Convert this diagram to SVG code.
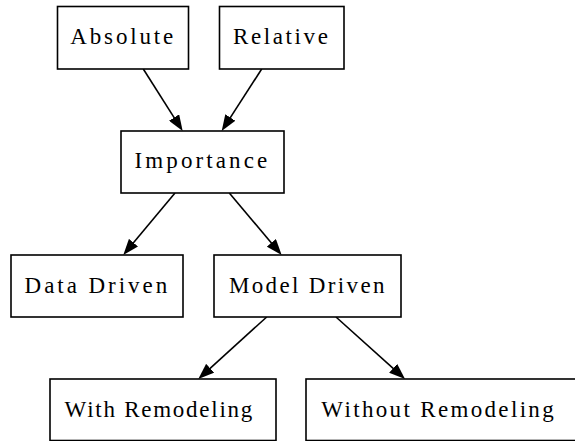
<svg xmlns="http://www.w3.org/2000/svg" width="575" height="441" viewBox="0 0 575 441">
  <style>
    .box { fill: #ffffff; stroke: #000000; stroke-width: 1.6; }
    .lbl { font-family: "Liberation Serif", "Times New Roman", serif; font-size: 23px; fill: #000000; }
    .edge { fill: none; stroke: #000000; stroke-width: 1.6; marker-end: url(#arrow); }
  </style>
  <defs>
    <marker id="arrow" markerUnits="userSpaceOnUse" markerWidth="16" markerHeight="12" viewBox="0 0 16 12" refX="6" refY="6" orient="auto">
      <path d="M0,0 L16,6 L0,12 Z" fill="#000000"/>
    </marker>
  </defs>
  <rect x="0" y="0" width="575" height="441" fill="#ffffff"/>

  <g id="edges">
    <line class="edge" x1="143.3" y1="69" x2="177.3" y2="122.6"/>
    <line class="edge" x1="261.7" y1="69" x2="227.1" y2="122.6"/>
    <line class="edge" x1="175" y1="193" x2="129.7" y2="247.3"/>
    <line class="edge" x1="229.3" y1="193" x2="275.2" y2="247.4"/>
    <line class="edge" x1="266.7" y1="317" x2="205.7" y2="372.3"/>
    <line class="edge" x1="336" y1="317" x2="397.6" y2="372.3"/>
  </g>

  <g id="absolute">
    <rect class="box" x="57.5" y="6.5" width="131" height="62.5"/>
    <text class="lbl" x="70.3" y="44" letter-spacing="2.85">Absolute</text>
  </g>
  <g id="relative">
    <rect class="box" x="219.5" y="6.5" width="124.5" height="62.5"/>
    <text class="lbl" x="233" y="44" letter-spacing="2.6">Relative</text>
  </g>
  <g id="importance">
    <rect class="box" x="121" y="131" width="163" height="62"/>
    <text class="lbl" x="134.6" y="168" letter-spacing="3.1">Importance</text>
  </g>
  <g id="data-driven">
    <rect class="box" x="11" y="255" width="172" height="62"/>
    <text class="lbl" x="24.6" y="292.7" letter-spacing="2.95">Data Driven</text>
  </g>
  <g id="model-driven">
    <rect class="box" x="214" y="255" width="187" height="62"/>
    <text class="lbl" x="228.9" y="292.7" letter-spacing="2.36">Model Driven</text>
  </g>
  <g id="with-remodeling">
    <rect class="box" x="50" y="379" width="226" height="61.5"/>
    <text class="lbl" x="64.6" y="417" letter-spacing="1.75">With Remodeling</text>
  </g>
  <g id="without-remodeling">
    <rect class="box" x="306" y="379" width="275" height="61.5"/>
    <text class="lbl" x="321.3" y="417" letter-spacing="2.34">Without Remodeling</text>
  </g>
</svg>
